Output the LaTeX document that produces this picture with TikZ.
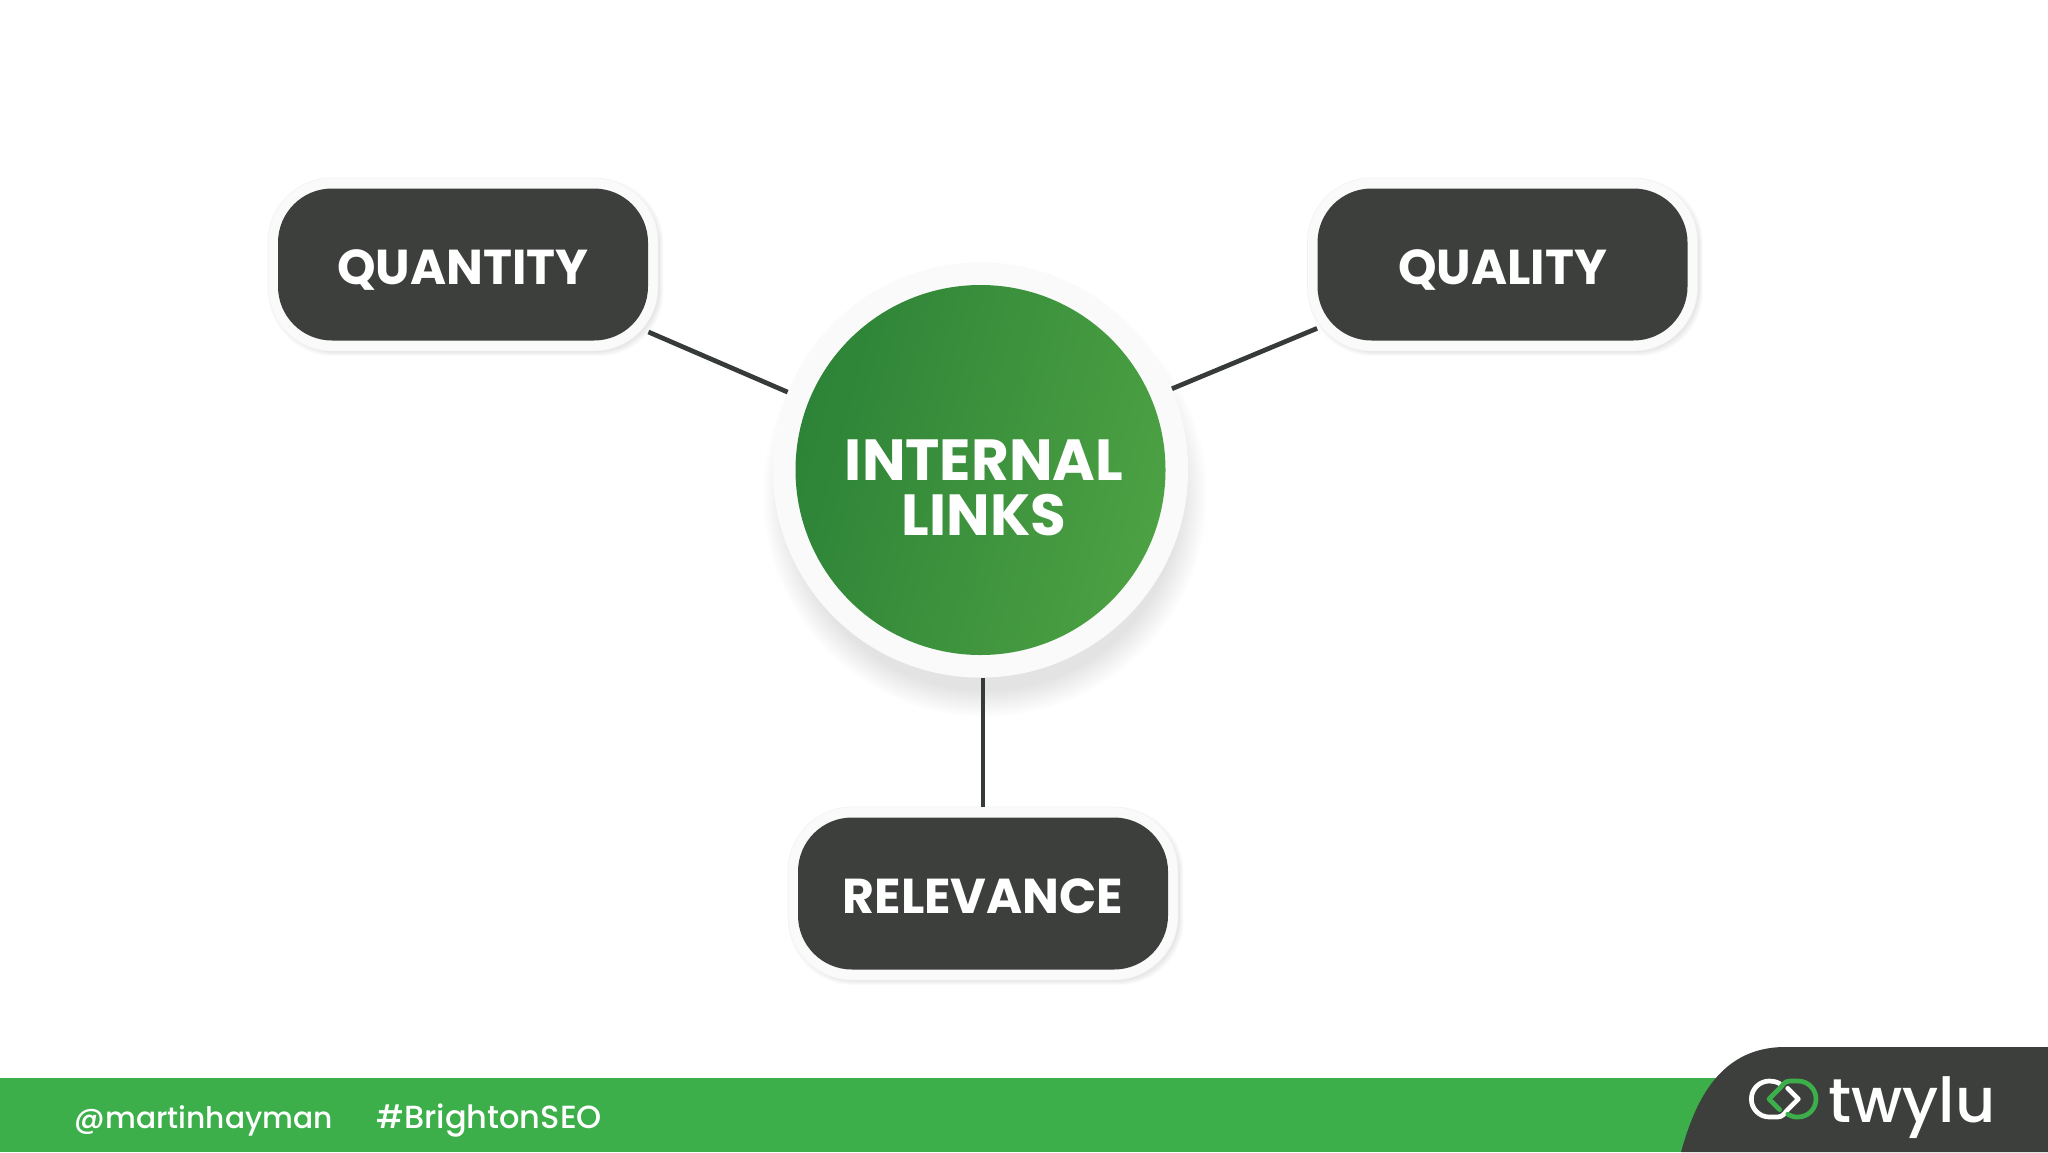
\documentclass[tikz,border=0pt]{standalone}
\usepackage{fontspec}
\setmainfont{Poppins}
\newfontfamily\medfont[UprightFont=* Medium]{Poppins}
\usetikzlibrary{backgrounds,calc}
\definecolor{slate}{HTML}{3C3F3B}
\definecolor{barGreen}{HTML}{3CAF4B}
\definecolor{hubL}{HTML}{2D8337}
\definecolor{hubR}{HTML}{4CA143}
\definecolor{ringW}{HTML}{F9FAF9}
\definecolor{lineC}{HTML}{363A39}
\tikzset{
 x=0.5pt,y=-0.5pt,
 darkbox/.style={fill=slate,rounded corners=27pt,minimum width=185pt,minimum height=76pt,inner sep=0pt,text=white,font=\fontsize{24.5}{26}\selectfont\bfseries},
 ringbox/.style={fill=ringW,draw=black!5,line width=0.3pt,rounded corners=32pt,minimum width=195pt,minimum height=86.5pt,inner sep=0pt},
 hubdisc/.style={circle,left color=hubL,right color=hubR,shading angle=75,minimum size=185pt,inner sep=0pt},
 hubtext/.style={text=white,align=center,inner sep=0pt,font=\fontsize{29}{27.5}\selectfont\bfseries},
 link/.style={draw=lineC,line width=2.35pt},
 foot/.style={text=white,anchor=base west,inner sep=0pt,font=\medfont},
 logostroke/.style={line width=2.35pt,line cap=round,line join=round},
}
\newcommand{\boxdown}[1]{\raisebox{0pt}[20.4pt][0pt]{#1}}
\newcommand{\boxshadow}[1]{%
 \foreach \k in {1,...,5}{
  \fill[black,opacity=0.018,rounded corners=32pt] ($(#1.south west)+(-7-\k+3,7+\k+3)$) rectangle ($(#1.north east)+(7+\k+3,-7-\k+3)$);
 }}
\begin{document}
\begin{tikzpicture}
\useasboundingbox (0,0) rectangle (2048,1152);
\node[darkbox] (qbox) at (463,264.5) {\boxdown{QUANTITY}};
\node[darkbox] (lbox) at (1502.5,264.5) {\boxdown{QUALITY}};
\node[darkbox] (rbox) at (983,893.5) {\boxdown{RELEVANCE}};
\node[hubdisc] (hub) at (980.5,470) {};
\node[hubtext] (hublabel) at (984,488) {INTERNAL\\LINKS};
\begin{scope}[on background layer]
 \fill[white] (0,0) rectangle (2048,1152);
 \foreach \k in {1,...,14}{
  \fill[black,opacity=0.009] (985,495) circle[radius=(194+\k*2)*0.5pt];
 }
 \boxshadow{qbox}
 \boxshadow{lbox}
 \boxshadow{rbox}
 \node[ringbox] (qring) at (qbox) {};
 \node[ringbox] (lring) at (lbox) {};
 \node[ringbox] (rring) at (rbox) {};
 \node[circle,fill=ringW,minimum size=207.6pt,inner sep=0pt] (hubring) at (hub) {};
 \draw[link] (hubring.158) -- (qbox.-20);
 \draw[link] (hubring.23) -- (lbox.199);
 \draw[link] (rring.north) -- (rring.north |- hubring.south);
\end{scope}
% footer
\fill[barGreen] (0,1078) rectangle (2048,1152);
\fill[slate] (1681,1152) .. controls (1693,1110) and (1715,1047) .. (1785,1047) -- (2048,1047) -- (2048,1152) -- cycle;
\node[foot,font=\medfont\fontsize{14.85}{18}\selectfont] (handle) at (74.5,1128) {@martinhayman};
\node[foot,font=\medfont\fontsize{16}{18}\selectfont] (tag) at (376,1128) {\#BrightonSEO};
\node[text=white,anchor=base west,inner sep=0pt,font=\medfont\fontsize{31}{32}\selectfont] (brand) at (1828,1122) {twylu};
\begin{scope}[shift={(1735,1065)},x=0.16667pt,y=-0.16667pt]
 \draw[white,logostroke] (134,56) .. controls (124,50) and (114,48) .. (103,48) arc[start angle=-90,end angle=-270,radius=54] -- (128,156) .. controls (144,156) and (150,142) .. (157,135) -- (190,102) -- (158,70);
 \draw[barGreen,logostroke] (134,134) -- (102,102) -- (135,69) .. controls (142,62) and (148,48) .. (164,48) -- (189,48) arc[start angle=-90,end angle=90,radius=54] .. controls (176,156) and (168,154) .. (158,148);
\end{scope}
\end{tikzpicture}
\end{document}
